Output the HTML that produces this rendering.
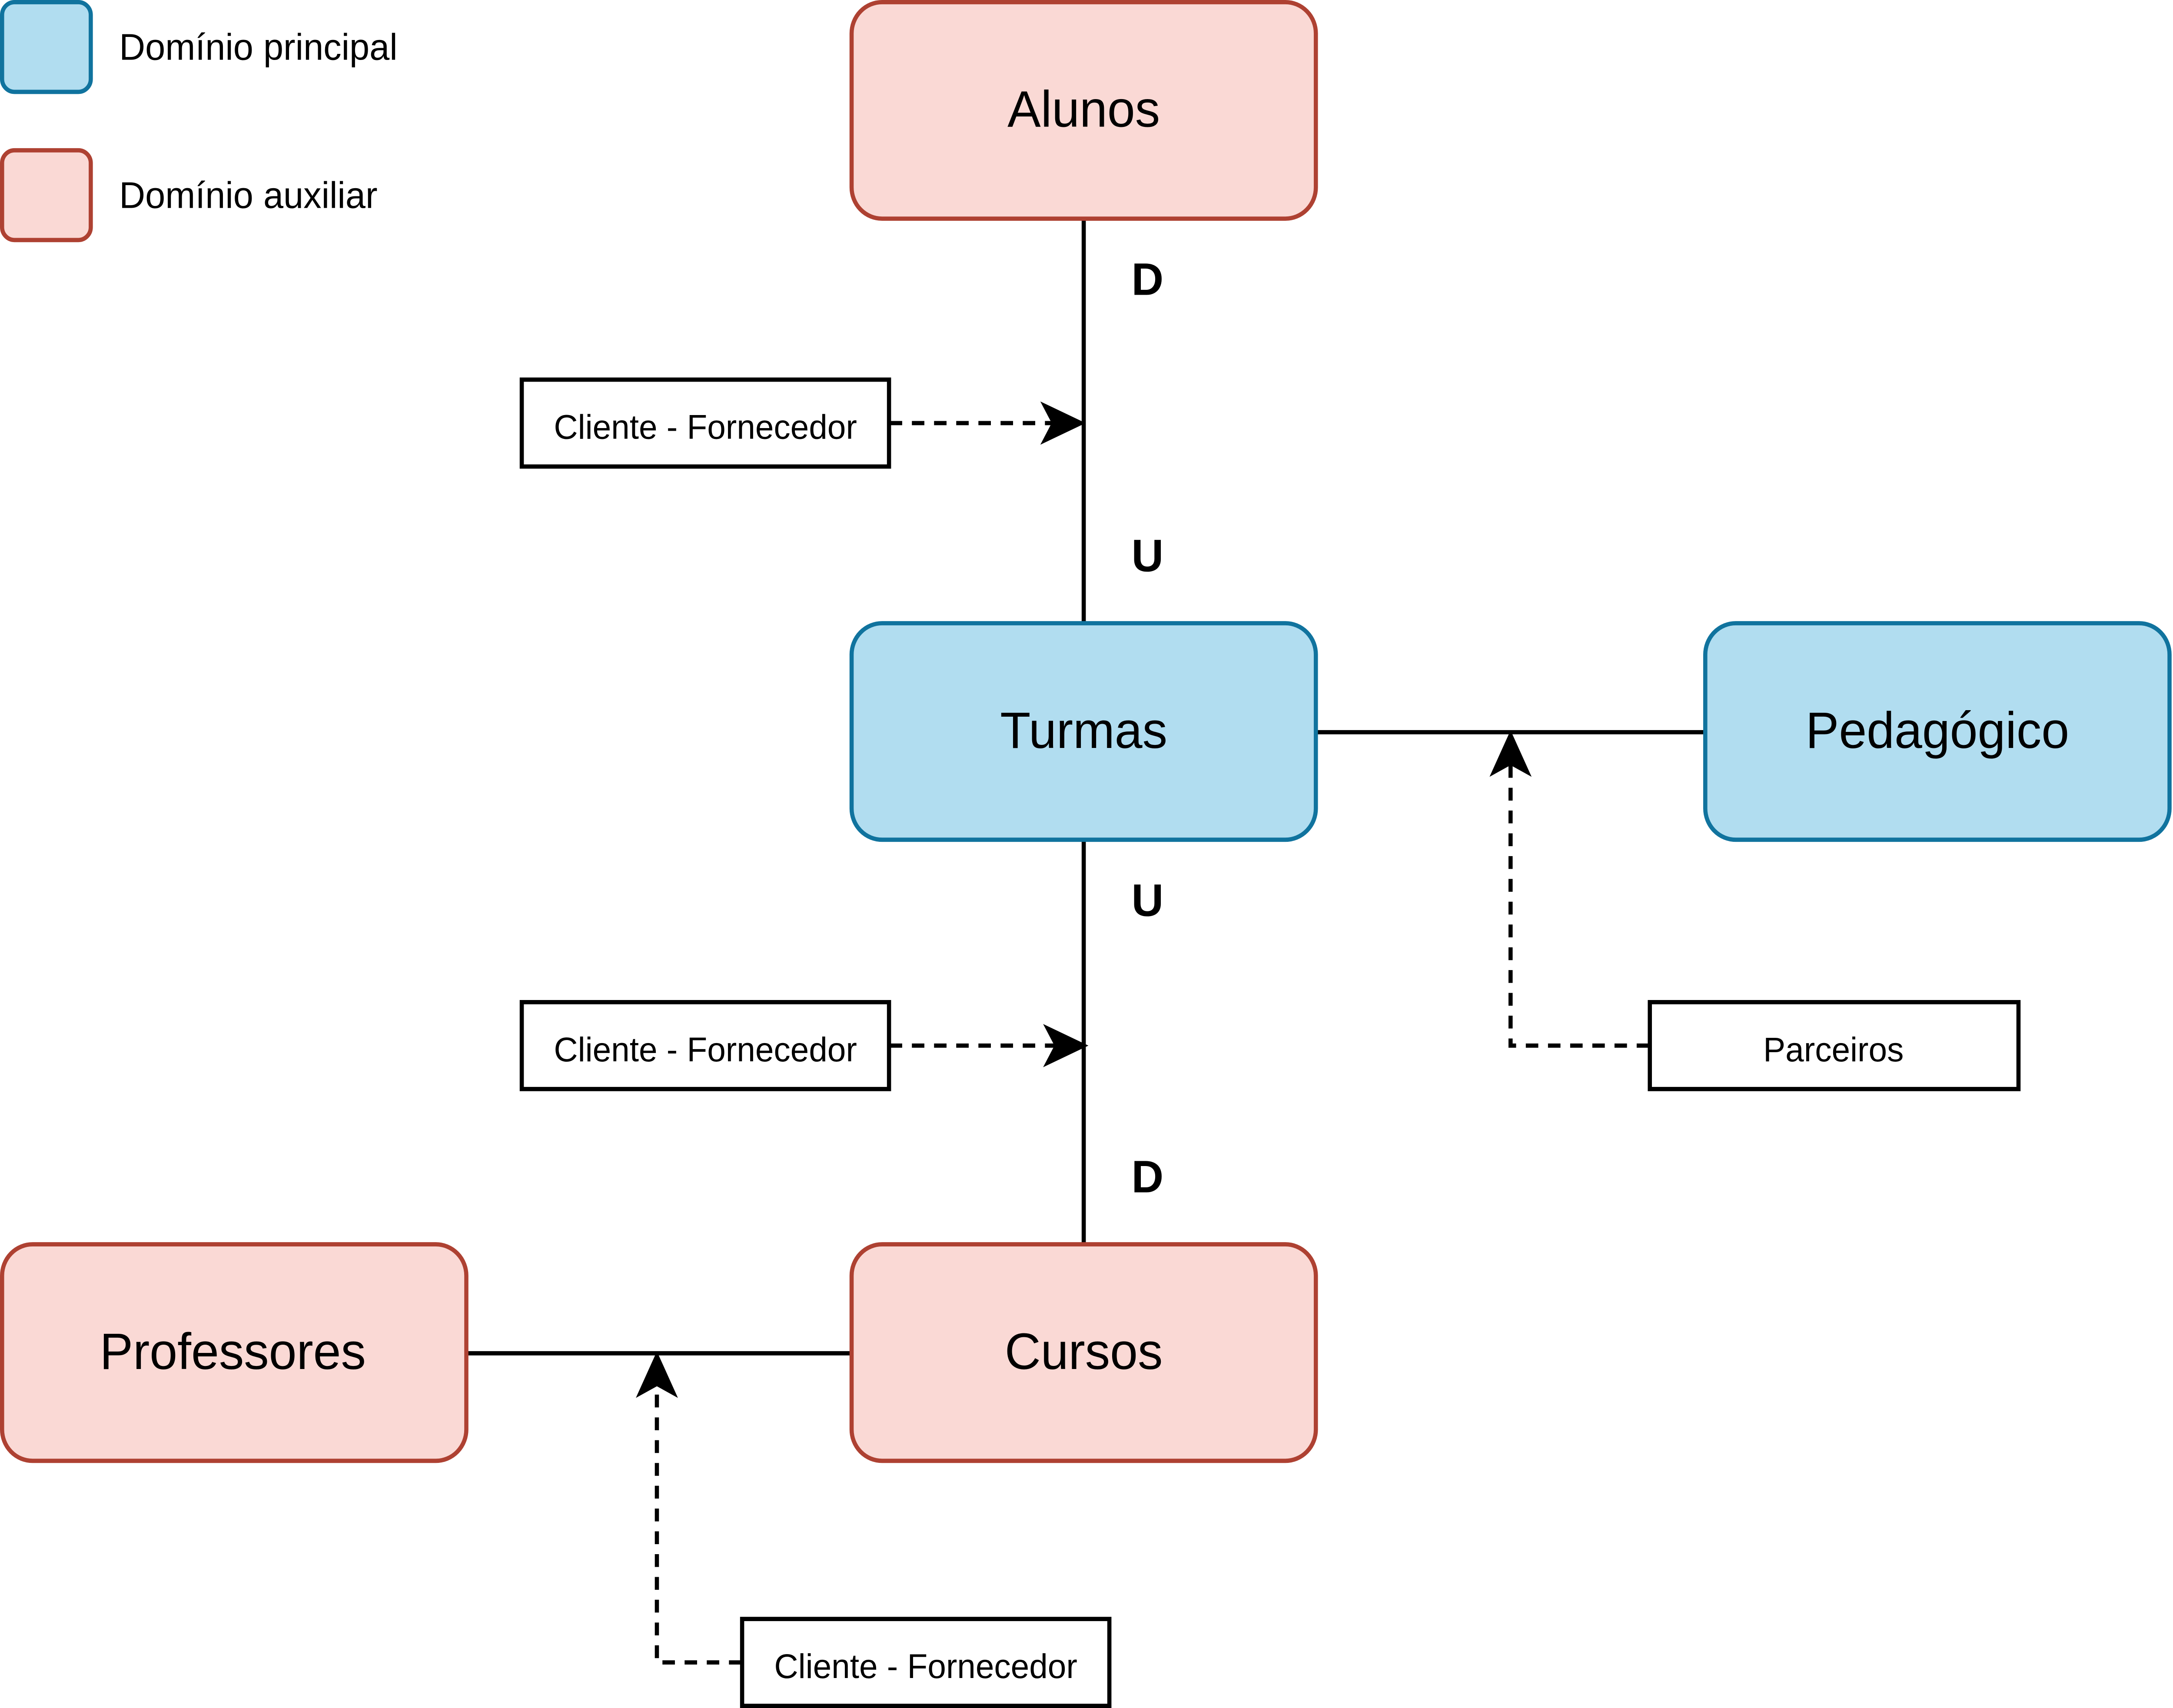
<!DOCTYPE html>
<html><head><meta charset="utf-8"><style>
html,body{margin:0;padding:0;background:#fff;width:100%;height:100%;overflow:hidden;}
svg{display:block;position:fixed;left:0;top:0;width:100vw;height:100vh;}
text{font-family:"Liberation Sans",sans-serif;}
</style></head><body>
<svg viewBox="0 0 1568 1199" preserveAspectRatio="none" xmlns="http://www.w3.org/2000/svg">
<rect width="1568" height="1199" fill="#fff"/>
<!-- legend -->
<rect x="1.5" y="1.5" width="64" height="63" rx="9" fill="#b1ddf0" stroke="#10739e" stroke-width="3"/>
<text x="86" y="42" font-size="26" fill="#000">Domínio principal</text>
<rect x="1.5" y="105.5" width="64" height="63" rx="9" fill="#fad9d5" stroke="#ae4132" stroke-width="3"/>
<text x="86" y="146" font-size="26" fill="#000">Domínio auxiliar</text>
<!-- lines -->
<g stroke="#000" stroke-width="3" fill="none">
<line x1="782" y1="154" x2="782" y2="437"/>
<line x1="782" y1="590" x2="782" y2="873"/>
<line x1="950" y1="514" x2="1230" y2="514"/>
<line x1="337" y1="950" x2="614" y2="950"/>
</g>
<!-- boxes -->
<g stroke-width="3">
<rect x="614.5" y="1.5" width="335" height="152" rx="22" fill="#fad9d5" stroke="#ae4132"/>
<rect x="614.5" y="437.5" width="335" height="152" rx="22" fill="#b1ddf0" stroke="#10739e"/>
<rect x="1230.5" y="437.5" width="335" height="152" rx="22" fill="#b1ddf0" stroke="#10739e"/>
<rect x="614.5" y="873.5" width="335" height="152" rx="22" fill="#fad9d5" stroke="#ae4132"/>
<rect x="1.5" y="873.5" width="335" height="152" rx="22" fill="#fad9d5" stroke="#ae4132"/>
</g>
<g font-size="36" text-anchor="middle" fill="#000">
<text x="782" y="89">Alunos</text>
<text x="782" y="525">Turmas</text>
<text x="1398" y="525">Pedagógico</text>
<text x="782" y="961">Cursos</text>
<text x="168" y="961">Professores</text>
</g>
<g font-size="32" font-weight="bold" text-anchor="middle" fill="#000">
<text x="828" y="207">D</text>
<text x="828" y="401">U</text>
<text x="828" y="643">U</text>
<text x="828" y="837">D</text>
</g>
<!-- label boxes -->
<g fill="#fff" stroke="#000" stroke-width="3">
<rect x="376.5" y="266.5" width="265" height="61"/>
<rect x="376.5" y="703.5" width="265" height="61"/>
<rect x="1190.5" y="703.5" width="266" height="61"/>
<rect x="535.5" y="1136.5" width="265" height="61"/>
</g>
<g font-size="24" text-anchor="middle" fill="#000">
<text x="509" y="308">Cliente - Fornecedor</text>
<text x="509" y="745">Cliente - Fornecedor</text>
<text x="1323" y="745">Parceiros</text>
<text x="668" y="1178">Cliente - Fornecedor</text>
</g>
<!-- dashed connectors -->
<g stroke="#000" stroke-width="3" fill="none" stroke-dasharray="9 7">
<path d="M642 297 H762"/>
<path d="M642 734 H764"/>
<path d="M1190 734 H1090 V534"/>
<path d="M535 1167 H474 V970"/>
</g>
<!-- arrowheads -->
<g fill="#000" stroke="#000" stroke-width="2" stroke-linejoin="miter">
<path d="M781 297 L753 284 L760 297 L753 310 Z"/>
<path d="M783 734 L755 721 L762 734 L755 747 Z"/>
<path d="M1090 515 L1077 543 L1090 536 L1103 543 Z"/>
<path d="M474 951 L461 979 L474 972 L487 979 Z"/>
</g>
</svg>
</body></html>
